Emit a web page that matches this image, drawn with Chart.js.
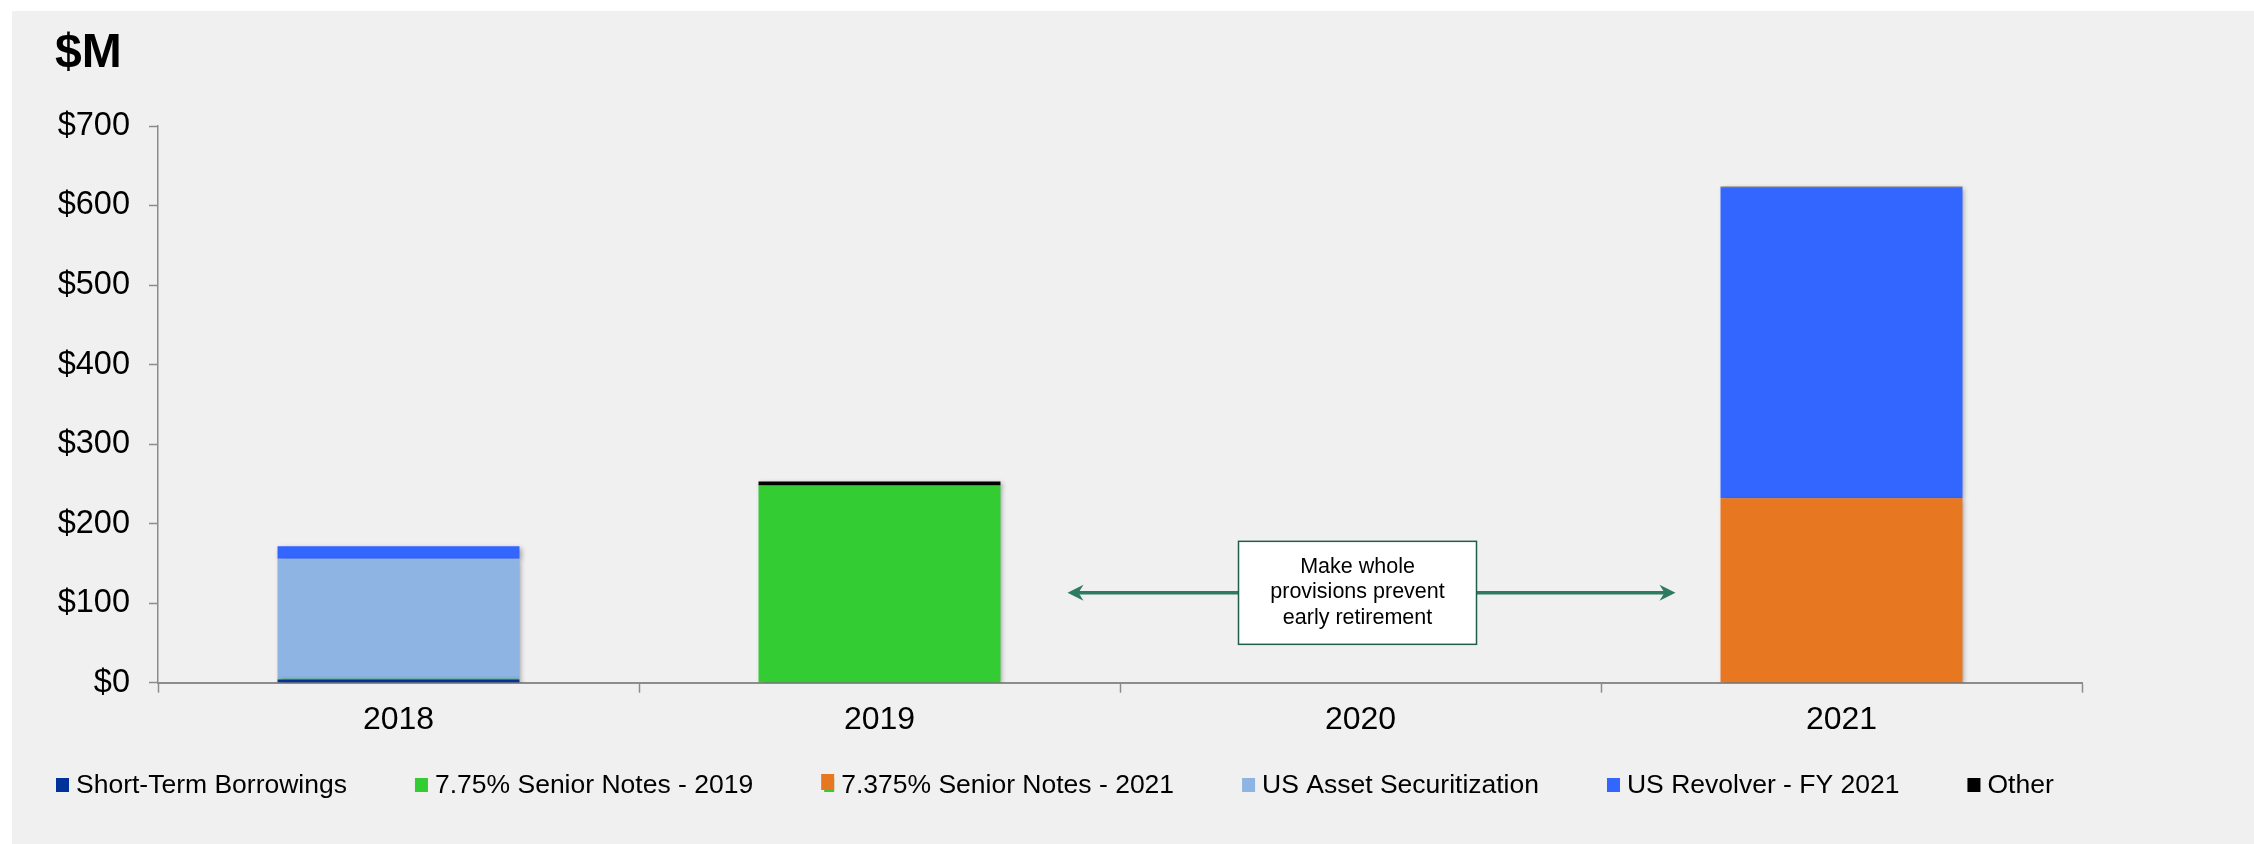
<!DOCTYPE html>
<html>
<head>
<meta charset="utf-8">
<script src="https://cdn.jsdelivr.net/npm/chart.js@4.4.1/dist/chart.umd.min.js"></script>
<style>
  html, body { margin: 0; padding: 0; background: #fff; }
  canvas { display: block; }
</style>
</head>
<body>
<canvas id="maturities" width="2254" height="844"></canvas>
<script>
// years on the x axis
const years = ['2018', '2019', '2020', '2021'];
// debt maturing per year, $M
const shortTermBorrowings = [4, 0, 0, 0];
const seniorNotes2019 = [1, 248, 0, 0];
const seniorNotes2021 = [0, 0, 0, 232];
const assetSecuritization = [151, 0, 0, 0];
const revolver2021 = [15.5, 0, 0, 391];
const other = [0, 5, 0, 0.7];
// y axis ticks
const yTicks = [0, 100, 200, 300, 400, 500, 600, 700];
// callout text
const noteLines = ['Make whole', 'provisions prevent', 'early retirement'];

const FONT = '"Liberation Sans", Arial, Helvetica, sans-serif';
const AXIS_GREY = '#8c8c8c';
const NOTE_GREEN = '#2f7a63';

Chart.defaults.font.family = FONT;
Chart.defaults.color = '#000';

function series(label, data, color) {
  return { label: label, data: data, backgroundColor: color, borderWidth: 0,
           categoryPercentage: 1, barPercentage: 0.503 };
}

//grey panel + white margin
const panelPlugin = {
  id: 'panel',
  beforeDraw(chart) {
    const c = chart.ctx;
    c.save();
    c.fillStyle = '#fff';
    c.fillRect(0, 0, chart.width, chart.height);
    c.fillStyle = '#f0f0f0';
    c.fillRect(12, 11, chart.width - 12, chart.height - 11);
    c.fillStyle = '#000';
    c.font = 'bold 48px ' + FONT;
    c.textBaseline = 'alphabetic';
    c.fillText('$M', 55, 67);
    c.restore();
  }
};

//soft shadow under the bars
const shadowPlugin = {
  id: 'barShadow',
  beforeDatasetsDraw(chart) {
    const c = chart.ctx;
    c.save();
    c.shadowColor = 'rgba(0,0,0,0.35)';
    c.shadowBlur = 5;
    c.shadowOffsetX = 2;
    c.shadowOffsetY = 2;
  },
  afterDatasetsDraw(chart) {
    chart.ctx.restore();
  }
};

function arrowHead(c, tipX, y, dir) {
  c.beginPath();
  c.moveTo(tipX, y);
  c.lineTo(tipX - dir * 16, y - 8);
  c.lineTo(tipX - dir * 11, y);
  c.lineTo(tipX - dir * 16, y + 8);
  c.closePath();
  c.fill();
}

//callout box with double arrow across 2020
const notePlugin = {
  id: 'note',
  afterDraw(chart) {
    const c = chart.ctx;
    const x = chart.scales.x, y = chart.scales.y;
    const cx = x.getPixelForValue(2) - 3;
    const cy = y.getPixelForValue(113);
    const w = 238, h = 103;
    const left = x.getPixelForValue(1) + 188;
    const right = x.getPixelForValue(3) - 166;
    c.save();
    c.strokeStyle = NOTE_GREEN;
    c.fillStyle = NOTE_GREEN;
    c.lineWidth = 3.5;
    c.beginPath();
    c.moveTo(left + 10, cy);
    c.lineTo(right - 10, cy);
    c.stroke();
    arrowHead(c, left, cy, -1);
    arrowHead(c, right, cy, 1);
    c.fillStyle = '#fff';
    c.fillRect(cx - w / 2, cy - h / 2, w, h);
    c.strokeStyle = '#1f5f4a';
    c.lineWidth = 1.5;
    c.strokeRect(cx - w / 2, cy - h / 2, w, h);
    c.fillStyle = '#000';
    c.font = '21.5px ' + FONT;
    c.textAlign = 'center';
    c.textBaseline = 'middle';
    noteLines.forEach((line, i) => {
      c.fillText(line, cx, cy - 26 + i * 25.5);
    });
    c.restore();
  }
};

//legend along the bottom, left aligned
const legendPlugin = {
  id: 'bottomLegend',
  afterDraw(chart) {
    const c = chart.ctx;
    c.save();
    c.font = '26.5px ' + FONT;
    c.textBaseline = 'middle';
    c.fillStyle = '#000';
    let x = 56;
    const yMid = 785;
    chart.data.datasets.forEach((ds, i) => {
      if (i === 2) {
        // the orange marker sits a little high, green peeks out under it
        c.fillStyle = chart.data.datasets[1].backgroundColor;
        c.fillRect(x + 3, yMid - 7, 10, 14);
        c.fillStyle = ds.backgroundColor;
        c.fillRect(x, yMid - 11, 13, 16);
      } else {
        c.fillStyle = ds.backgroundColor;
        c.fillRect(x, yMid - 7, 13, 14);
      }
      c.fillStyle = '#000';
      c.fillText(ds.label, x + 20, yMid + 1);
      x += 20 + c.measureText(ds.label).width + 68;
    });
    c.restore();
  }
};

const ctx = document.getElementById('maturities').getContext('2d');
const chart = new Chart(ctx, {
  type: 'bar',
  data: {
    labels: years,
    datasets: [
      series('Short-Term Borrowings', shortTermBorrowings, '#003399'),
      series('7.75% Senior Notes - 2019', seniorNotes2019, '#33cc33'),
      series('7.375% Senior Notes - 2021', seniorNotes2021, '#e87722'),
      series('US Asset Securitization', assetSecuritization, '#8eb4e3'),
      series('US Revolver - FY 2021', revolver2021, '#3366ff'),
      series('Other', other, '#000000')
    ]
  },
  options: {
    responsive: false,
    animation: false,
    devicePixelRatio: 1,
    layout: { padding: { left: 0, top: 126, right: 172, bottom: 0 } },
    plugins: {
      legend: { display: false },
      tooltip: { enabled: false }
    },
    scales: {
      x: {
        stacked: true,
        offset: true,
        grid: {
          offset: true,
          drawOnChartArea: false,
          drawTicks: true,
          tickLength: 10,
          tickWidth: 1.5,
          tickColor: AXIS_GREY
        },
        border: { display: true, color: AXIS_GREY, width: 2 },
        ticks: { font: { size: 32 }, color: '#000', padding: 8, maxRotation: 0 },
        afterFit(scale) { scale.height = 161.3; }
      },
      y: {
        stacked: true,
        min: 0,
        max: 700,
        afterBuildTicks(scale) { scale.ticks = yTicks.map(v => ({ value: v })); },
        grid: {
          drawOnChartArea: false,
          drawTicks: true,
          tickLength: 9,
          tickWidth: 1.5,
          tickColor: AXIS_GREY
        },
        border: { display: true, color: AXIS_GREY, width: 1.5 },
        ticks: {
          font: { size: 32.5 },
          color: '#000',
          padding: 19,
          callback: v => '$' + v
        },
        afterFit(scale) { scale.width = 158; }
      }
    }
  },
  plugins: [panelPlugin, shadowPlugin, notePlugin, legendPlugin]
});
</script>
</body>
</html>
